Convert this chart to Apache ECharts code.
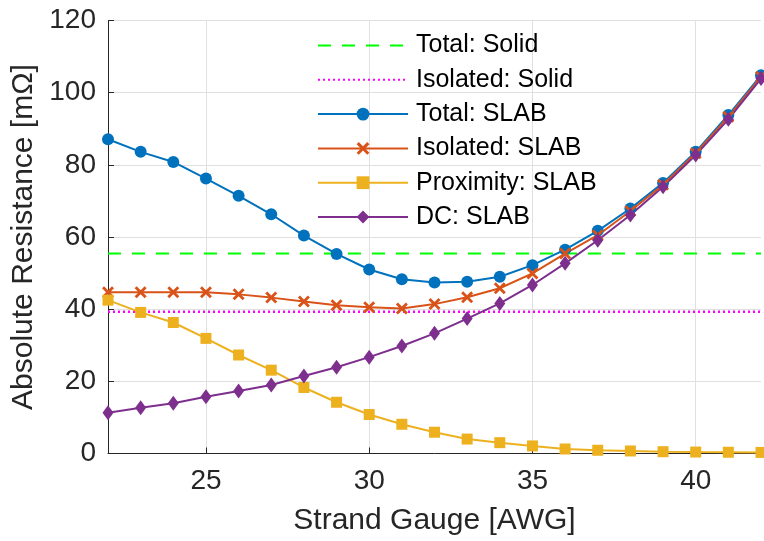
<!DOCTYPE html>
<html>
<head>
<meta charset="utf-8">
<script src="https://cdn.jsdelivr.net/npm/echarts@6/dist/echarts.min.js"></script>
<style>
html,body{margin:0;padding:0;background:#fff;}
#chart{width:764px;height:541px;}
</style>
</head>
<body>
<div id="chart"></div>
<script>
var gauge = [22,23,24,25,26,27,28,29,30,31,32,33,34,35,36,37,38,39,40,41,42];
var totalSlab = [87.1,83.6,80.8,76.2,71.4,66.3,60.4,55.3,51.0,48.3,47.4,47.6,49.0,52.2,56.5,61.7,67.9,75.0,83.6,93.8,104.8];
var isolatedSlab = [44.7,44.7,44.7,44.7,44.1,43.2,42.1,41.1,40.5,40.2,41.4,43.3,45.8,49.9,55.4,60.5,67.2,74.5,83.2,93.3,104.4];
var proximitySlab = [42.5,39.1,36.3,31.9,27.3,23.1,18.3,14.2,10.8,8.1,5.9,4.0,3.0,2.1,1.25,0.9,0.7,0.5,0.4,0.35,0.3];
var dcSlab = [11.3,12.7,13.9,15.7,17.3,19.0,21.5,23.9,26.7,29.8,33.3,37.4,41.6,46.7,52.7,59.1,66.1,73.9,82.7,92.6,103.9];
var totalSolid = 55.4;
var isolatedSolid = 39.3;
var xTicks = [25,30,35,40];
var yTicks = [0,20,40,60,80,100,120];
var names = ['Total: Solid','Isolated: Solid','Total: SLAB','Isolated: SLAB','Proximity: SLAB','DC: SLAB'];

var FONT = 'Arial, "Liberation Sans", Helvetica, sans-serif';
function pairs(arr){ return gauge.map(function(g,i){ return [g, arr[i]]; }); }
function flat(v){ return [[gauge[0], v],[gauge[gauge.length-1], v]]; }

var crossPath = 'path://M2,0 L6,4 L10,0 L12,2 L8,6 L12,10 L10,12 L6,8 L2,12 L0,10 L4,6 L0,2 Z';

var legendData = names.map(function(n, i){
  if (i < 2) return {name:n, itemStyle:{opacity:0}};
  return {name:n};
});

var chart = echarts.init(document.getElementById('chart'), null, {renderer:'canvas'});
chart.setOption({
  animation:false,
  backgroundColor:'#ffffff',
  grid:{left:108, right:3, top:20.5, bottom:87.5, containLabel:false, outerBoundsMode:'none'},
  legend:{
    orient:'vertical', left:317, top:33, padding:0,
    itemWidth:90, itemHeight:16, itemGap:9.3,
    textStyle:{fontFamily:FONT, fontSize:25, color:'#000', lineHeight:25, padding:[0,0,0,3]},
    data:legendData
  },
  xAxis:{
    type:'value', min:22, max:42,
    name:'Strand Gauge [AWG]', nameLocation:'middle', nameGap:52,
    nameTextStyle:{fontFamily:FONT, fontSize:30, color:'#262626'},
    axisLine:{show:true, onZero:false, lineStyle:{color:'#262626', width:1}},
    axisTick:{show:true, inside:true, length:6, customValues:xTicks, lineStyle:{color:'#262626'}},
    axisLabel:{customValues:xTicks, fontFamily:FONT, fontSize:28, color:'#262626', margin:14},
    splitLine:{show:false}
  },
  yAxis:{
    type:'value', min:0, max:120, interval:20,
    name:'Absolute Resistance [mΩ]', nameLocation:'middle', nameGap:62,
    nameTextStyle:{fontFamily:FONT, fontSize:30, color:'#262626'},
    axisLine:{show:true, lineStyle:{color:'#262626', width:1}},
    axisTick:{show:true, inside:true, length:6, lineStyle:{color:'#262626'}},
    axisLabel:{fontFamily:FONT, fontSize:28, color:'#262626', margin:12},
    splitLine:{show:true, lineStyle:{color:'#e0e0e0', width:1}}
  },
  series:[
    {
      name:'_grid', type:'line', data:[], z:0, silent:true,
      markLine:{
        silent:true, symbol:['none','none'], z:0, animation:false,
        label:{show:false},
        lineStyle:{color:'#e0e0e0', width:1, type:'solid'},
        emphasis:{disabled:true},
        data:xTicks.map(function(v){ return {xAxis:v}; })
      }
    },
    {
      name:names[0], type:'line', data:flat(totalSolid), symbol:'none',
      lineStyle:{color:'#00ff00', width:2, type:[13,11]}, itemStyle:{color:'#00ff00'}
    },
    {
      name:names[1], type:'line', data:flat(isolatedSolid), symbol:'none',
      lineStyle:{color:'#ff00ff', width:2.5, type:[2,3]}, itemStyle:{color:'#ff00ff'}
    },
    {
      name:names[2], type:'line', data:pairs(totalSlab), symbol:'circle', symbolSize:12,
      lineStyle:{color:'#0072bd', width:2}, itemStyle:{color:'#0072bd', opacity:1}
    },
    {
      name:names[3], type:'line', data:pairs(isolatedSlab), symbol:crossPath, symbolSize:12,
      lineStyle:{color:'#d95319', width:2}, itemStyle:{color:'#d95319', opacity:1}
    },
    {
      name:names[4], type:'line', data:pairs(proximitySlab), symbol:'rect', symbolSize:11,
      lineStyle:{color:'#edb120', width:2}, itemStyle:{color:'#edb120', opacity:1}
    },
    {
      name:names[5], type:'line', data:pairs(dcSlab), symbol:'diamond', symbolSize:[11,15],
      lineStyle:{color:'#7e2f8e', width:2}, itemStyle:{color:'#7e2f8e', opacity:1}
    }
  ]
});
</script>
</body>
</html>
